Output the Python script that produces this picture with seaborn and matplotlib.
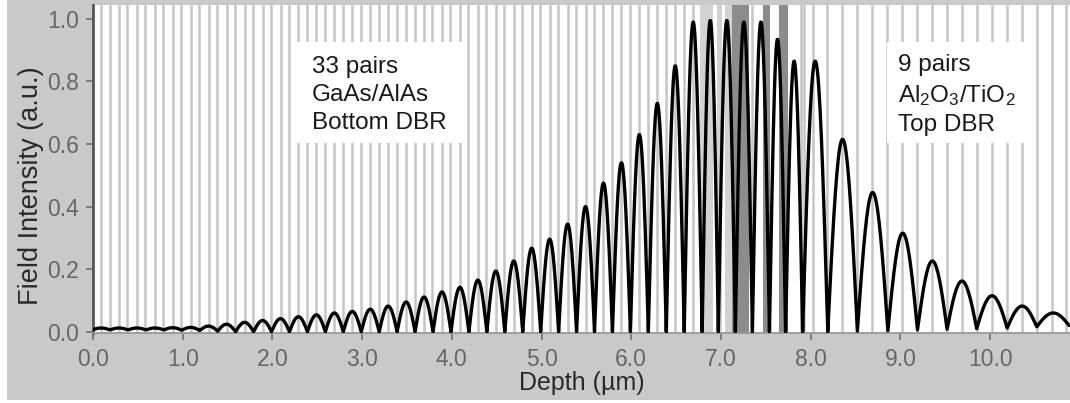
import numpy as np
import pandas as pd
import seaborn as sns
import matplotlib
matplotlib.use('Agg')
import matplotlib.pyplot as plt
from matplotlib.patches import Rectangle

# field nodes (depth, um) and the intensity at each node
node_x = [-0.01, 0.19, 0.39, 0.59, 0.79, 0.99, 1.19, 1.39, 1.59, 1.79,
          1.99, 2.19, 2.39, 2.59, 2.79, 2.99, 3.19, 3.39, 3.59, 3.79,
          3.99, 4.19, 4.39, 4.59, 4.79, 4.99, 5.19, 5.39, 5.59, 5.79,
          5.99, 6.19, 6.39, 6.59, 6.79,
          6.97, 7.16, 7.35, 7.54, 7.72, 7.91, 8.19,
          8.52, 8.86, 9.19, 9.52, 9.85, 10.19, 10.52, 10.88]
node_y = [0.006, 0.006, 0.006, 0.006, 0.006, 0.005, 0.004, 0.002, 0.0, 0.0,
          0.0, 0.0, 0.0, 0.0, 0.0, 0.0, 0.0, 0.0, 0.0, 0.0,
          0.0, 0.0, 0.0, 0.0, 0.0, 0.0, 0.0, 0.0, 0.0, 0.0,
          0.0, 0.0, 0.0, 0.0, 0.0,
          0.0, 0.0, 0.0, 0.0, 0.0, 0.0, 0.0,
          0.002, 0.003, 0.006, 0.008, 0.01, 0.012, 0.016, 0.02]
# peak value of each lobe between two nodes
peak_y = [0.012, 0.012, 0.012, 0.012, 0.013, 0.014, 0.018, 0.024, 0.030, 0.036,
          0.042, 0.048, 0.054, 0.060, 0.065, 0.072, 0.082, 0.095, 0.111, 0.127,
          0.142, 0.165, 0.194, 0.226, 0.267, 0.296, 0.344, 0.400, 0.475, 0.540,
          0.630, 0.730, 0.850, 0.990,
          0.995, 0.995, 0.990, 0.990, 0.935, 0.865, 0.865,
          0.615, 0.445, 0.315, 0.226, 0.162, 0.115, 0.082, 0.060]

# layer interfaces
bottom_start = 0.09
bottom_layers = [0.094, 0.106]   # GaAs / AlAs
bottom_pairs = 33
top_start = 8.02
top_layers = [0.166, 0.167]      # Al2O3 / TiO2
top_pairs = 9
cavity_lines = [7.35, 7.89, 7.93]
band_lo = [6.77, 6.96, 7.05, 7.12, 7.47, 7.65]
band_hi = [6.91, 7.01, 7.12, 7.31, 7.55, 7.75]
band_col = ['#d2d2d2', '#d2d2d2', '#d2d2d2', '#8c8c8c', '#8c8c8c', '#8c8c8c']

x_ticks = [0.0, 1.0, 2.0, 3.0, 4.0, 5.0, 6.0, 7.0, 8.0, 9.0, 10.0]
y_ticks = [0.0, 0.2, 0.4, 0.6, 0.8, 1.0]

# build the curve, one arch per lobe
xs, ys = [], []
t = np.linspace(0, 1, 40)
for i in range(len(peak_y)):
    a, b = node_x[i], node_x[i + 1]
    ya, yb = node_y[i], node_y[i + 1]
    xs.append(a + (b - a) * t)
    ys.append(ya + (yb - ya) * t + (peak_y[i] - (ya + yb) / 2) * np.sin(np.pi * t))
df = pd.DataFrame({'depth': np.concatenate(xs), 'field': np.concatenate(ys)})

def interfaces(start, layers, pairs):
    pos = [start]
    for k in range(pairs):
        for d in layers:
            pos.append(pos[-1] + d)
    return pos

lines = interfaces(bottom_start, bottom_layers, bottom_pairs) + cavity_lines + \
    interfaces(top_start, top_layers, top_pairs)

sns.set_theme(style='white')
plt.rcParams['font.family'] = ['Liberation Sans', 'DejaVu Sans']
plt.rcParams['mathtext.default'] = 'regular'

W, H = 1070, 403
fig = plt.figure(figsize=(W / 100, H / 100), dpi=100, facecolor='white')
fig.patches.append(Rectangle((7 / W, 3 / H), 1, 1, transform=fig.transFigure,
                             facecolor='#c9c9c9', edgecolor='none', zorder=-10))
ax = fig.add_axes([93 / W, 1 - 333 / H, 1 - 93 / W, 328 / H])
ax.set_facecolor('white')

for lo, hi, c in zip(band_lo, band_hi, band_col):
    ax.axvspan(lo, hi, color=c, lw=0, zorder=1)
for x in lines:
    ax.axvline(x, color='#c5c5c5', lw=1.8, zorder=1)

sns.lineplot(data=df, x='depth', y='field', color='black', lw=2.4,
             estimator=None, sort=False, ax=ax, zorder=3)

# label boxes
for x0, x1, tx, txt in [(295, 463, 312, '33 pairs\nGaAs/AlAs\nBottom DBR'),
                        (887, 1033, 898, '9 pairs\nAl$_2$O$_3$/TiO$_2$\nTop DBR')]:
    ax.add_patch(Rectangle(((x0 - 93) / 977, (333 - 143) / 328), (x1 - x0) / 977,
                           101 / 328, transform=ax.transAxes, facecolor='white',
                           edgecolor='none', zorder=4))
    ax.text((tx - 93) / 977, (333 - 95) / 328, txt, transform=ax.transAxes,
            fontsize=17.5, color='#1a1a1a', va='center', ha='left',
            linespacing=1.38, zorder=5)

ax.set_xlim(0, 10.89)
ax.set_ylim(-0.004, 1.044)
ax.set_xticks(x_ticks)
ax.set_xticklabels(['%.1f' % v for v in x_ticks])
ax.set_yticks(y_ticks)
ax.set_yticklabels(['%.1f' % v for v in y_ticks])
ax.tick_params(axis='both', which='major', labelsize=16.5, labelcolor='#666666',
               color='#777777', direction='out', length=5, width=1.3)
ax.tick_params(axis='x', pad=6, bottom=True)
ax.tick_params(axis='y', pad=5, left=True)

ax.set_xlabel('Depth (µm)', fontsize=18, color='#2a2a2a')
ax.set_ylabel('Field Intensity (a.u.)', fontsize=19.5, color='#2a2a2a')
ax.xaxis.set_label_coords(0.5, -0.115)
ax.yaxis.set_label_coords(-0.05, 0.45)

for s in ['top', 'right']:
    ax.spines[s].set_visible(False)
ax.spines['left'].set_color('#555555')
ax.spines['left'].set_linewidth(2)
ax.spines['bottom'].set_color('#999999')
ax.spines['bottom'].set_linewidth(1.3)

fig.savefig('out.png', dpi=100, facecolor=fig.get_facecolor())
